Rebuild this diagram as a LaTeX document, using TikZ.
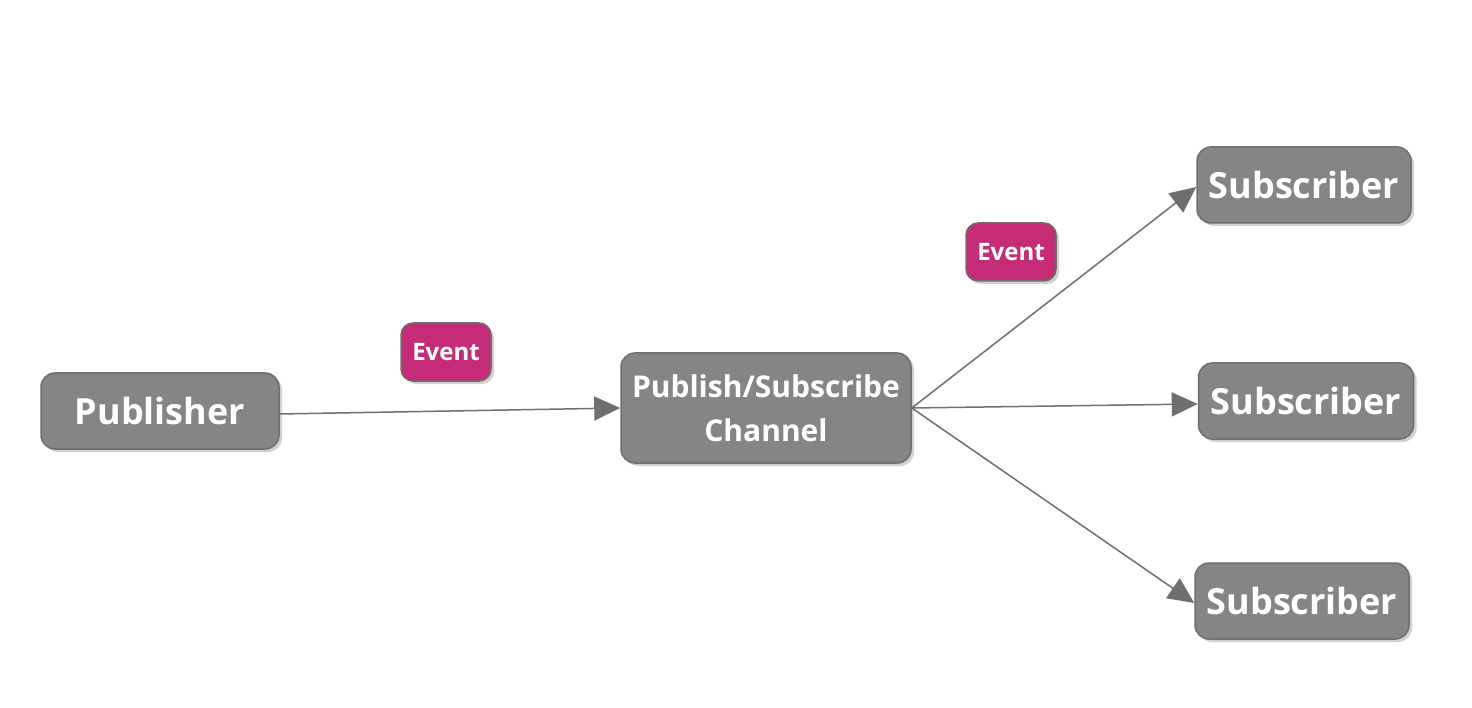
\documentclass[tikz,border=0pt]{standalone}
\usepackage{fontspec}
\setmainfont{Open Sans}
\usetikzlibrary{shadows,arrows.meta,positioning}
\definecolor{boxgray}{HTML}{858585}
\definecolor{boxedge}{HTML}{6E6E6E}
\definecolor{evmag}{HTML}{C62C76}
\definecolor{linegray}{HTML}{6F6F6F}
\tikzset{
  graybox/.style={draw=boxedge, line width=1.5pt, fill=boxgray, rounded corners=14pt,
    text=white, font=\bfseries, align=center, inner sep=0pt,
    drop shadow={shadow xshift=3pt, shadow yshift=-3pt, opacity=0.3, fill=black!60}},
  evbox/.style={draw=boxedge, line width=1.5pt, fill=evmag, rounded corners=12pt,
    text=white, font=\bfseries\fontsize{24}{28}\selectfont, inner sep=0pt,
    minimum width=90pt, minimum height=58pt,
    drop shadow={shadow xshift=3pt, shadow yshift=-3pt, opacity=0.3, fill=black!60}},
  bigtext/.style={font=\bfseries\fontsize{36}{40}\selectfont},
  conn/.style={draw=linegray, line width=1.5pt, -{Triangle[length=26pt,width=24pt]}}
}
\begin{document}
\begin{tikzpicture}[x=1pt,y=-1pt]
\useasboundingbox (0,0) rectangle (1472,708);
\node[graybox, bigtext, minimum width=238pt, minimum height=76pt] (pub) at (160,411) {Publisher};
\node[graybox, minimum width=290pt, minimum height=110pt, font=\bfseries\fontsize{30}{44}\selectfont] (chan) at (766,408) {Publish/Subscribe\\Channel};
\node[graybox, bigtext, minimum width=214pt, minimum height=76pt] (s1) at (1304,185) {Subscriber};
\node[graybox, bigtext, minimum width=215pt, minimum height=76pt] (s2) at (1306,401) {Subscriber};
\node[graybox, bigtext, minimum width=214pt, minimum height=76pt] (s3) at (1302,601) {Subscriber};
\node[evbox] (e1) at (446,352) {Event};
\node[evbox] (e2) at (1011,252) {Event};
\draw[conn] ([yshift=-3pt]pub.east) -- (chan.west);
\draw[conn] (chan.east) -- ([yshift=-2pt]s1.west);
\draw[conn] (chan.east) -- ([yshift=-3pt]s2.west);
\draw[conn] (chan.east) -- ([yshift=-2pt]s3.west);
\end{tikzpicture}
\end{document}
